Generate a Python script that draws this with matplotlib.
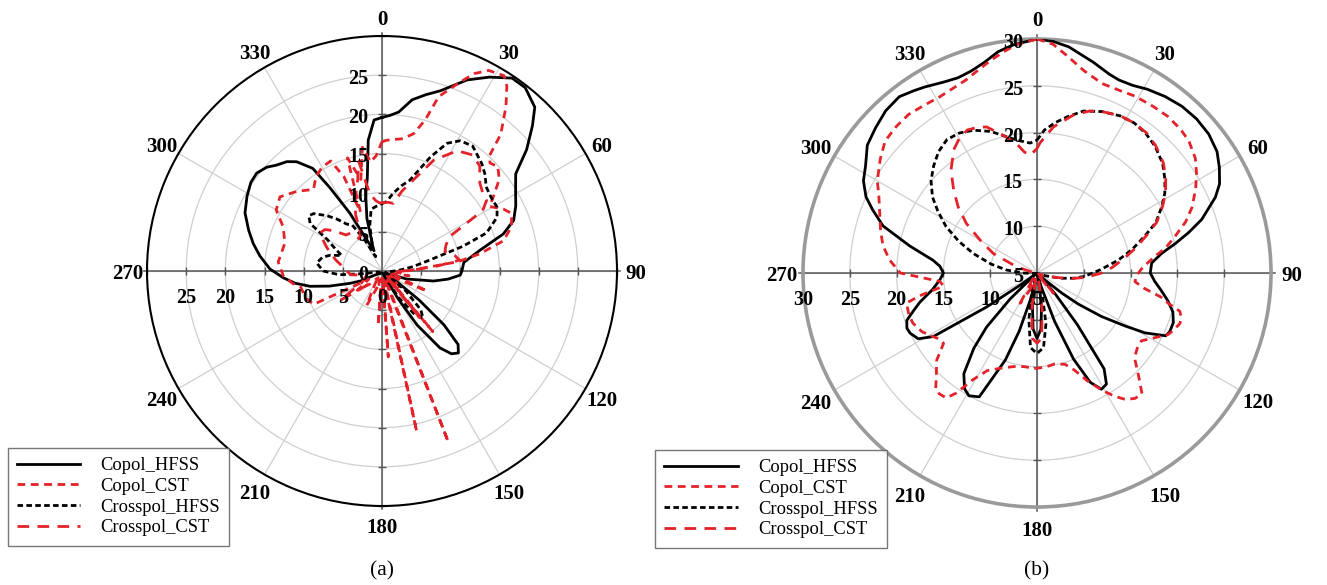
import numpy as np
import matplotlib
matplotlib.use('Agg')
import matplotlib.pyplot as plt
from matplotlib.lines import Line2D

# ---------------- data : (a) ----------------
a_copol_hfss_deg = [0, 3, 6, 10, 14, 18, 24, 29, 34, 38, 43, 46, 50, 54, 59, 64, 69, 73, 78, 84, 90, 93, 97, 101,
                    108, 113, 120, 125, 128, 131, 134, 137, 140, 143, 147, 150, 153, 160, 200, 240, 245, 249, 254,
                    258, 262, 266, 271, 277, 282, 287, 293, 299, 304, 308, 312, 315, 319, 322, 326, 328, 331, 334,
                    337, 340, 344, 348, 351, 354, 357]
a_copol_hfss_val = [19.6, 19.9, 20.4, 22.2, 23.2, 24.2, 26.7, 28.3, 29.7, 29.7, 28.6, 26.7, 24.1, 21.1, 19.9, 19.0,
                    18.0, 16.2, 12.8, 10.5, 10.2, 10.0, 8.5, 6.7, 3.3, 1.0, 0.5, 2.0, 6.0, 10.5, 13.5, 14.3, 13.8,
                    12.3, 8.2, 4.0, 1.0, 0.3, 0.3, 1.0, 3.0, 4.4, 7.0, 9.4, 11.2, 12.6, 14.3, 15.7, 16.8, 17.8, 19.0,
                    19.7, 20.2, 20.3, 19.8, 19.1, 18.5, 17.7, 15.8, 12.5, 8.4, 4.5, 3.0, 3.5, 7.0, 10.0, 12.0, 16.8,
                    19.3]

a_copol_cst_deg = [0, 2, 6, 9, 13, 16, 18, 22, 25, 28, 32, 34, 37, 41, 43, 45, 48, 52, 57, 59, 63, 66, 71, 76, 80,
                   83, 88, 95, 100, 104, 110, 114, 118, 125, 132, 136, 140, 143, 150, 156, 158.8, 161, 165, 167.8,
                   170, 174, 175.8, 178, 182, 184, 186, 195, 204, 210, 220, 232, 238, 244, 250, 259, 262, 267, 275,
                   286, 294, 300, 306, 313, 320, 325, 330, 335, 338, 340, 343, 347, 351, 354, 357]
a_copol_cst_val = [16.5, 16.7, 16.9, 17.1, 18.0, 20.1, 23.4, 25.8, 27.8, 29.0, 29.4, 28.5, 26.3, 23.1, 20.1, 19.5,
                   19.9, 19.0, 16.8, 16.0, 17.4, 18.1, 17.5, 16.0, 12.7, 9.8, 4.0, 2.0, 3.5, 1.0, 2.0, 6.3, 2.0, 1.5,
                   3.0, 1.0, 10.1, 1.0, 2.0, 1.0, 23.4, 1.0, 1.0, 21.0, 1.0, 1.0, 11.0, 1.0, 1.0, 7.0, 1.0, 2.0, 4.8,
                   1.5, 2.0, 4.0, 2.0, 9.7, 10.3, 10.6, 11.5, 12.6, 13.3, 12.9, 13.8, 15.6, 16.1, 14.9, 13.6, 14.7,
                   15.3, 15.5, 13.0, 8.0, 15.1, 12.0, 16.0, 14.0, 14.7]

a_cross_hfss_deg = [0, 4, 8, 13, 17, 23, 27, 31, 36, 43, 47, 51, 56, 61, 65, 70, 73, 77, 82, 87, 95, 110, 125, 130,
                    135, 139, 143, 148, 153, 170, 200, 255, 262, 265, 270, 277, 283, 287, 291, 295, 300, 303.5, 307,
                    310, 315, 319, 323, 327, 331, 336, 340, 345, 350, 355]
a_cross_hfss_val = [8.6, 8.9, 10.0, 11.2, 12.1, 15.8, 18.3, 19.4, 19.7, 18.7, 18.0, 17.1, 16.8, 16.8, 16.2, 14.2,
                    10.8, 6.3, 4.0, 2.3, 1.0, 0.5, 1.0, 4.0, 7.0, 8.0, 7.0, 4.0, 1.0, 0.3, 0.3, 0.5, 2.5, 5.5, 7.5,
                    8.4, 7.8, 6.9, 5.5, 6.5, 8.1, 11.0, 11.7, 11.4, 10.0, 8.8, 7.5, 7.0, 4.5, 2.0, 3.7, 6.0, 8.0, 8.3]

a_cross_cst_deg = [0, 5, 9.5, 14, 19, 25, 32, 38, 43, 48, 52, 56, 59, 63, 68, 73, 78, 82, 85, 88, 92, 100, 120, 135,
                   141, 145, 160, 172, 176, 190, 210, 230, 235, 240, 255, 263, 270, 276, 283, 289, 295, 301.5, 306,
                   310, 315, 320, 325, 330, 335, 340, 345, 348, 351, 355, 358]
a_cross_cst_val = [8.7, 8.8, 8.75, 10.5, 12.3, 15.6, 18.1, 18.8, 18.3, 16.8, 16.3, 16.1, 15.0, 9.7, 8.8, 8.4, 9.5,
                   10.0, 7.0, 4.0, 2.0, 1.0, 1.5, 1.0, 7.7, 1.0, 1.0, 2.0, 1.0, 2.0, 1.0, 3.6, 6.6, 3.0, 2.0, 4.0,
                   4.5, 5.0, 6.0, 7.0, 8.0, 9.3, 9.0, 8.0, 6.5, 6.3, 5.0, 5.5, 8.0, 10.0, 12.0, 14.3, 10.0, 9.0, 8.7]

# ---------------- data : (b) ----------------
b_copol_hfss_deg = [0, 4, 8, 15, 20, 23, 27, 31, 36, 41, 46, 51, 56, 60, 64, 67, 72, 75, 78, 81, 85, 90, 94, 98,
                    102, 106, 110, 114, 116, 119, 121, 124, 127, 129, 132, 135, 139, 142, 145, 148, 151, 154, 157,
                    160, 163, 166, 169, 172, 176, 180, 184, 188, 191, 194, 197, 200, 205, 209, 212, 216, 220, 223,
                    226, 229, 232, 234, 236, 238.5, 241, 244.6, 247, 250, 253, 256, 261, 266, 270, 274, 277, 282,
                    287, 291, 294, 298, 302, 307, 312, 317, 322, 326, 329, 334, 338, 342, 346, 350, 354]
b_copol_hfss_val = [30.0, 29.8, 29.4, 28.3, 27.6, 27.4, 27.5, 27.9, 28.3, 28.6, 28.7, 28.6, 28.2, 27.5, 26.7, 25.7,
                    23.5, 21.8, 20.1, 18.5, 17.3, 17.1, 17.6, 18.4, 19.3, 20.1, 20.5, 20.5, 20.3, 18.2, 16.0, 13.3,
                    10.5, 8.4, 6.0, 5.2, 8.0, 12.0, 17.5, 19.0, 19.2, 18.0, 15.0, 10.5, 6.5, 5.2, 6.0, 8.5, 11.0,
                    12.0, 11.0, 8.5, 6.0, 8.0, 11.5, 14.9, 19.6, 20.0, 19.6, 18.3, 15.5, 12.9, 9.0, 5.5, 5.2, 7.0,
                    11.5, 18.0, 19.5, 20.0, 20.1, 19.8, 18.8, 17.9, 16.3, 15.4, 15.0, 15.4, 16.2, 18.9, 22.2, 23.8,
                    25.0, 26.0, 26.6, 27.7, 28.2, 28.7, 28.9, 28.5, 28.2, 27.7, 27.5, 27.7, 28.2, 29.0, 29.5]

b_copol_cst_deg = [0, 4, 8, 13, 19, 24, 29, 35, 40, 45, 49, 54, 58, 62, 67, 71, 75, 79, 82, 87, 91, 95, 98, 101, 103,
                   105, 107, 109.4, 112, 115, 119, 123, 127, 131, 135, 139, 142, 145, 148, 151, 155, 159, 163, 169,
                   175, 181, 188, 194, 201, 207, 211, 214, 216, 219, 221, 225, 229, 233, 236, 238.4, 243, 248, 252,
                   257, 259, 262, 265, 270, 275, 280, 285, 291, 296, 300, 306, 311, 316, 321, 326, 331, 336, 340,
                   344, 348, 352, 355]
b_copol_cst_val = [30.0, 29.5, 28.4, 27.2, 26.4, 26.4, 26.6, 26.7, 26.8, 26.7, 26.5, 25.9, 25.1, 24.2, 23.0, 21.8,
                   20.3, 19.0, 17.7, 16.3, 15.7, 15.5, 16.5, 18.5, 19.4, 20.8, 21.1, 21.2, 20.9, 20.5, 19.3, 18.3,
                   18.4, 18.8, 20.3, 22.1, 22.0, 21.5, 20.5, 19.3, 17.7, 16.1, 15.2, 14.9, 15.1, 15.2, 15.1, 15.3,
                   15.9, 16.7, 18.3, 20.5, 21.5, 21.6, 21.5, 20.2, 19.2, 17.5, 17.6, 18.0, 18.8, 19.3, 19.4, 19.3,
                   17.8, 15.1, 15.4, 19.6, 20.8, 21.7, 22.3, 23.0, 23.8, 24.7, 25.7, 26.5, 26.7, 26.8, 26.6, 26.5,
                   26.7, 27.0, 27.6, 28.3, 29.0, 29.5]

b_cross_hfss_deg = [0, 3, 7, 11, 16, 22, 28, 33, 38, 43, 49, 54, 58, 62, 67, 71, 76, 81, 87, 94, 98, 102, 108, 115,
                    130, 160, 165, 170, 175, 180, 185, 190, 195, 200, 240, 262, 270, 275.7, 281, 287, 292, 297, 302,
                    306, 311, 316, 321, 326, 331, 336, 342, 347.5, 352, 357]
b_cross_hfss_val = [19.2, 20.3, 21.2, 22.0, 23.0, 23.6, 24.0, 24.1, 23.9, 23.5, 22.8, 21.9, 21.1, 20.1, 18.8, 17.2,
                    15.5, 13.8, 11.8, 10.1, 9.0, 7.7, 6.0, 5.3, 5.1, 5.2, 7.0, 10.5, 13.0, 13.6, 13.0, 10.0, 7.0,
                    5.2, 5.1, 5.3, 6.5, 8.3, 10.0, 12.1, 14.0, 15.9, 17.5, 18.8, 20.0, 20.9, 21.7, 22.2, 22.1, 21.7,
                    20.9, 19.9, 19.3, 18.9]

b_cross_cst_deg = [0, 1.3, 6.4, 12.9, 18, 22, 28, 33, 38, 43, 49, 54, 58, 62, 67, 71, 76, 81, 86, 90, 95, 100, 106,
                   112, 125, 136, 141, 146, 160, 168, 172, 176, 180, 184, 188, 192, 196, 203, 209, 214, 220, 260,
                   280, 287, 294, 300, 305, 310, 315, 320, 326, 330, 334, 338, 341, 346, 351, 354, 356.7]
b_cross_cst_val = [18.3, 18.9, 20.7, 22.3, 23.2, 23.6, 24.0, 24.1, 24.0, 23.6, 22.9, 22.0, 21.2, 20.2, 18.9, 17.4,
                   15.8, 14.3, 13.0, 11.9, 10.3, 8.5, 6.5, 5.5, 5.2, 5.5, 7.8, 5.5, 5.2, 6.0, 9.0, 12.0, 12.5, 12.0,
                   9.0, 6.0, 5.5, 7.0, 8.7, 6.0, 5.3, 5.2, 5.5, 7.3, 10.1, 12.0, 14.2, 16.0, 17.6, 19.3, 20.9, 21.6,
                   22.0, 21.8, 21.5, 20.2, 19.0, 18.0, 17.6]

angle_ticks = list(range(0, 360, 30))
angle_labels = [str(a) for a in angle_ticks]
a_rings = [5, 10, 15, 20, 25]
b_rings = [10, 15, 20, 25]
a_rlabels = [0, 5, 10, 15, 20, 25]
b_rlabels = [5, 10, 15, 20, 25, 30]
series_names = ['Copol_HFSS', 'Copol_CST', 'Crosspol_HFSS', 'Crosspol_CST']

# ---------------- styling ----------------
plt.rcParams['font.family'] = ['Liberation Serif', 'DejaVu Serif']
RED = '#e4222a'
styles = {
    'Copol_HFSS': dict(color='black', lw=2.0, ls='-'),
    'Copol_CST': dict(color=RED, lw=2.0, dashes=(2.8, 2.0)),
    'Crosspol_HFSS': dict(color='black', lw=2.0, dashes=(2.0, 1.2)),
    'Crosspol_CST': dict(color=RED, lw=2.0, dashes=(4.2, 3.0)),
}

W, H = 1327, 585
fig = plt.figure(figsize=(W / 100, H / 100), dpi=100)


def make_axes(cx, cy, R):
    return fig.add_axes([(cx - R) / W, 1 - (cy + R) / H, 2 * R / W, 2 * R / H], projection='polar')


def setup(ax, rmin, rmax, rings, rlabels, hlabels, spine_color, spine_lw, lab_dist):
    ax.set_theta_zero_location('N')
    ax.set_theta_direction(-1)
    ax.set_ylim(rmin, rmax)
    ax.set_yticks(rings)
    ax.set_yticklabels([])
    ax.set_xticks(np.deg2rad(angle_ticks))
    ax.set_xticklabels([])
    ax.tick_params(axis='x', length=5, color='#aaaaaa', direction='out')
    ax.tick_params(axis='y', length=0)
    ax.grid(True, color='#cfcfcf', lw=0.9)
    ax.spines['polar'].set_color(spine_color)
    ax.spines['polar'].set_linewidth(spine_lw)
    # angle labels, centred at a fixed distance outside the circle
    for a, lab in zip(angle_ticks, angle_labels):
        t = np.deg2rad(a)
        ax.annotate(lab, xy=(t, rmax), xytext=(lab_dist * np.sin(t), lab_dist * np.cos(t) - 3),
                    textcoords='offset pixels', ha='center', va='center', fontsize=15,
                    fontweight='bold', annotation_clip=False, zorder=6)
    # darker cross axes
    for t in [0, 90, 180, 270]:
        ax.plot(np.deg2rad([t, t]), [rmin, rmax + 0.4], color='#555555', lw=1.1, clip_on=False, zorder=2)
    tick_r = list(rings) + [rmax]
    for t, m in [(0, '_'), (180, '_'), (90, '|'), (270, '|')]:
        ax.plot(np.deg2rad([t] * len(tick_r)), tick_r, ls='none', marker=m, ms=6, mew=1.0,
                color='#555555', clip_on=False, zorder=2)
    for r in rlabels:
        ax.annotate(str(r), xy=(0, r), xytext=(-14, -4), textcoords='offset pixels',
                    ha='right', va='center', fontsize=14.5, fontweight='bold', zorder=6)
    for r in hlabels:
        ax.annotate(str(r), xy=(np.deg2rad(270), r), xytext=(0, -27), textcoords='offset pixels',
                    ha='center', va='center', fontsize=14.5, fontweight='bold', zorder=6)


def draw(ax, deg, val, name):
    d = list(deg) + [deg[0] + 360]
    v = list(val) + [val[0]]
    ax.plot(np.deg2rad(d), v, zorder=4, **styles[name])


# ---- (a) ----
axa = make_axes(382, 271, 235)
setup(axa, 0, 30, a_rings, a_rlabels, a_rlabels, 'black', 1.5, 19)
draw(axa, a_copol_hfss_deg, a_copol_hfss_val, 'Copol_HFSS')
draw(axa, a_copol_cst_deg, a_copol_cst_val, 'Copol_CST')
draw(axa, a_cross_hfss_deg, a_cross_hfss_val, 'Crosspol_HFSS')
draw(axa, a_cross_cst_deg, a_cross_cst_val, 'Crosspol_CST')

# ---- (b) ----
axb = make_axes(1037, 273, 234)
setup(axb, 5, 30, b_rings, b_rlabels, b_rlabels, '#9a9a9a', 2.6, 21)
draw(axb, b_copol_hfss_deg, b_copol_hfss_val, 'Copol_HFSS')
draw(axb, b_copol_cst_deg, b_copol_cst_val, 'Copol_CST')
draw(axb, b_cross_hfss_deg, b_cross_hfss_val, 'Crosspol_HFSS')
draw(axb, b_cross_cst_deg, b_cross_cst_val, 'Crosspol_CST')

# ---- legends ----
handles = [Line2D([], [], **styles[n]) for n in series_names]
for (x, y, hl) in [(8, 448, 3.4), (655, 450, 4.0)]:
    leg = fig.legend(handles, series_names, loc='upper left', bbox_to_anchor=(x / W, 1 - y / H),
                     frameon=True, fancybox=False, edgecolor='#555555', fontsize=13.3,
                     handlelength=hl, handletextpad=1.1, labelspacing=0.2, borderpad=0.5,
                     borderaxespad=0)
    leg.get_frame().set_linewidth(1.0)

fig.text(382 / W, 1 - 571 / H, '(a)', ha='center', va='center', fontsize=15.5)
fig.text(1037 / W, 1 - 571 / H, '(b)', ha='center', va='center', fontsize=15.5)

fig.savefig('out.png', dpi=100)
